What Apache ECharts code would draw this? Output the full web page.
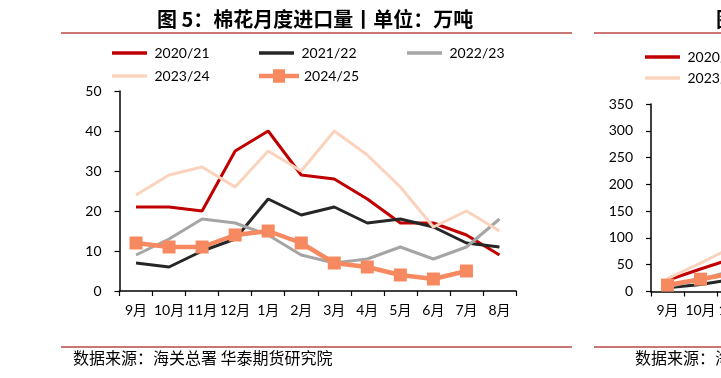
<!DOCTYPE html>
<html>
<head>
<meta charset="utf-8">
<script src="https://cdn.jsdelivr.net/npm/echarts@6/dist/echarts.min.js"></script>
<style>
html,body{margin:0;padding:0;background:#fff;overflow:hidden;}
#wrap{width:721px;height:378px;overflow:hidden;position:relative;}
#c{width:1300px;height:378px;position:absolute;left:0;top:0;}
</style>
</head>
<body>
<div id="wrap"><div id="c"></div></div>
<script>
// ---- data ----
const months = ['9月','10月','11月','12月','1月','2月','3月','4月','5月','6月','7月','8月'];
const seriesNames = ['2020/21','2021/22','2022/23','2023/24','2024/25'];
const v2020 = [21, 21, 20, 35, 40, 29, 28, 23, 17, 17, 14, 9];
const v2021 = [7, 6, 10, 13, 23, 19, 21, 17, 18, 16, 12, 11];
const v2022 = [9, 13, 18, 17, 14, 9, 7, 8, 11, 8, 11, 18];
const v2023 = [24, 29, 31, 26, 35, 30, 40, 34, 26, 16, 20, 15];
const v2024 = [12, 11, 11, 14, 15, 12, 7, 6, 4, 3, 5, null];
// cumulative chart (right, partially visible)
const c2020 = [21, 42, 62, 97, 137, 166, 194, 217, 234, 251, 265, 274];
const c2021 = [7, 13, 23, 36, 59, 78, 99, 116, 134, 150, 162, 173];
const c2022 = [9, 22, 40, 57, 71, 80, 87, 95, 106, 114, 125, 143];
const c2023 = [24, 53, 84, 110, 145, 175, 215, 249, 275, 291, 311, 326];
const c2024 = [12, 23, 34, 48, 63, 75, 82, 88, 92, 95, 100, null];
const yTicks1 = {min: 0, max: 50, interval: 10};
const yTicks2 = {min: 0, max: 350, interval: 50};
const title1 = '图 5：棉花月度进口量丨单位：万吨';
const title2 = '图 6：棉花累计进口量丨单位：万吨';
const source = '数据来源：海关总署 华泰期货研究院';

// ---- styles ----
const colors = ['#C00000', '#262626', '#A5A5A5', '#FBD3BD', '#F6895F'];
const FONT = "Lato, 'Noto Sans CJK SC', sans-serif";
const CJK = "'Noto Sans CJK SC', sans-serif";

const chart = echarts.init(document.getElementById('c'), null, {renderer: 'canvas', width: 1300, height: 378});

function xAxis(gi) {
  return {
    type: 'category', gridIndex: gi, data: months, boundaryGap: true,
    axisLine: {lineStyle: {color: '#000', width: 1.5}},
    axisTick: {show: true, length: 5, lineStyle: {color: '#000', width: 1.2}},
    axisLabel: {color: '#000', fontSize: 14, fontFamily: FONT, margin: 12, interval: 0}
  };
}
function yAxis(gi, t) {
  return {
    type: 'value', gridIndex: gi, min: t.min, max: t.max, interval: t.interval,
    axisLine: {show: true, lineStyle: {color: '#000', width: 1.5}},
    axisTick: {show: true, length: 5, lineStyle: {color: '#000', width: 1.2}},
    splitLine: {show: false},
    axisLabel: {color: '#000', fontSize: 14, fontFamily: FONT, margin: 18}
  };
}
function mkSeries(name, data, idx, gi) {
  const isLast = idx === 4;
  return {
    name: name, type: 'line', data: data, xAxisIndex: gi, yAxisIndex: gi,
    symbol: isLast ? 'rect' : 'none', symbolSize: isLast ? 13 : 0,
    showSymbol: isLast,
    lineStyle: {color: colors[idx], width: isLast ? 4.5 : 3},
    itemStyle: {color: colors[idx]},
    color: colors[idx],
    animation: false, silent: true, z: 2 + idx
  };
}
const leftData = [v2020, v2021, v2022, v2023, v2024];
const rightData = [c2020, c2021, c2022, c2023, c2024];
const series = [];
seriesNames.forEach((n, i) => series.push(mkSeries(n, leftData[i], i, 0)));
seriesNames.forEach((n, i) => series.push(mkSeries(n, rightData[i], i, 1)));

// legends: one component per item for exact placement
const legPos1 = [[112, 53], [259, 53], [407, 53], [112, 76], [259, 76]];
const legPos2 = [[645, 57], [792, 57], [940, 57], [645, 78], [792, 78]];
const lineIcon = 'path://M0,0 L40,0 L40,4 L0,4 Z';
const markIcon = 'path://M0,5 L14,5 L14,0.5 L26,0.5 L26,5 L40,5 L40,9.5 L26,9.5 L26,14 L14,14 L14,9.5 L0,9.5 Z';
const legends = [];
function addLegend(pos, i) {
  const isLast = i === 4;
  const h = isLast ? 14 : 3.5;
  legends.push({
    data: [{name: seriesNames[i], icon: isLast ? markIcon : lineIcon, itemStyle: {color: colors[i]}}],
    left: pos[0], top: pos[1] - 8, padding: 0,
    itemWidth: 40, itemHeight: h, itemGap: 0,
    itemStyle: {borderWidth: 0},
    lineStyle: {width: 0},
    textStyle: {color: '#000', fontSize: 14, lineHeight: 16, fontFamily: FONT},
    selectedMode: false
  });
}
legPos1.forEach((p, i) => addLegend(p, i));
legPos2.forEach((p, i) => addLegend(p, i));

const lineColor = '#CB7574';
chart.setOption({
  animation: false,
  backgroundColor: '#fff',
  legend: legends,
  grid: [
    {left: 119.5, top: 91, width: 396.5, height: 200, containLabel: false},
    {left: 651, top: 104, width: 396, height: 187.5, containLabel: false}
  ],
  xAxis: [xAxis(0), xAxis(1)],
  yAxis: [yAxis(0, yTicks1), yAxis(1, yTicks2)],
  series: series,
  graphic: [
    {type: 'text', left: 157, top: 9, style: {text: title1, fontSize: 20, fontWeight: 'bold', fontFamily: CJK, fill: '#000'}},
    {type: 'text', left: 716, top: 9, style: {text: title2, fontSize: 20, fontWeight: 'bold', fontFamily: CJK, fill: '#000'}},
    {type: 'line', shape: {x1: 61, y1: 33, x2: 572, y2: 33}, style: {stroke: lineColor, lineWidth: 2}},
    {type: 'line', shape: {x1: 594, y1: 33, x2: 1200, y2: 33}, style: {stroke: lineColor, lineWidth: 2}},
    {type: 'line', shape: {x1: 61, y1: 347, x2: 572, y2: 347}, style: {stroke: lineColor, lineWidth: 2}},
    {type: 'line', shape: {x1: 594, y1: 347, x2: 1200, y2: 347}, style: {stroke: lineColor, lineWidth: 2}},
    {type: 'text', left: 73, top: 350, style: {text: source, fontSize: 16, fontFamily: CJK, fill: '#000'}},
    {type: 'text', left: 635, top: 350, style: {text: source, fontSize: 16, fontFamily: CJK, fill: '#000'}}
  ]
});
</script>
</body>
</html>
